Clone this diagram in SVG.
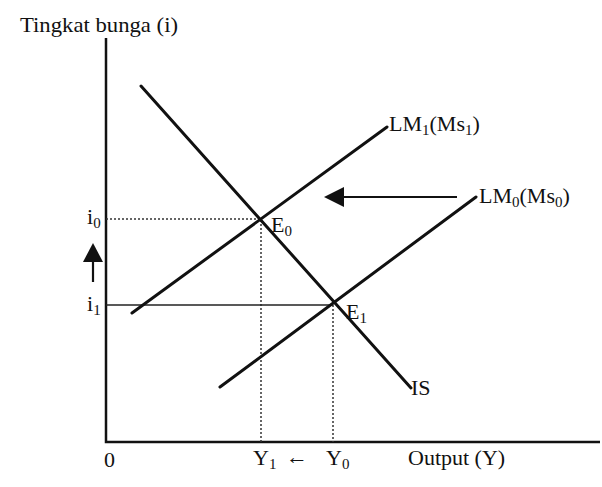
<svg xmlns="http://www.w3.org/2000/svg" width="602" height="487" viewBox="0 0 602 487">
<style>
text{font-family:"Liberation Serif","Times New Roman",serif;font-size:22px;fill:#111}
.sub{font-size:15px}
.curve{stroke:#111;stroke-width:3;fill:none;stroke-linecap:round}
.axis{stroke:#111;stroke-width:2.5;fill:none}
.dot{stroke:#333;stroke-width:1.5;stroke-dasharray:2 2;fill:none}
.thin{stroke:#222;stroke-width:1.3;fill:none}
</style>
<rect width="602" height="487" fill="#fff"/>
<g id="axes">
<path class="axis" d="M106,38 V442 H600"/>
<text x="20" y="32" textLength="158" lengthAdjust="spacingAndGlyphs">Tingkat bunga (i)</text>
<text x="104" y="467">0</text>
<text x="408" y="465">Output (Y)</text>
</g>
<g id="connectors">
<path class="dot" d="M106,219 H261 V442"/>
<path class="thin" d="M106,305 H333"/>
<path class="dot" d="M333,305 V442"/>
<path stroke="#111" stroke-width="2.2" d="M93,282 V260"/>
<polygon points="83,262 103,262 93,243" fill="#111"/>
<path stroke="#111" stroke-width="2.2" d="M457,197 H340"/>
<polygon points="324,197 344,187 344,207" fill="#111"/>
</g>
<g id="IS">
<path class="curve" d="M141,86 L411,388"/>
<text x="411" y="395">IS</text>
</g>
<g id="LM1">
<path class="curve" d="M132,313 L387,127"/>
<text x="389" y="131">LM<tspan class="sub" dy="4">1</tspan><tspan dy="-4">(Ms</tspan><tspan class="sub" dy="4">1</tspan><tspan dy="-4">)</tspan></text>
</g>
<g id="LM0">
<path class="curve" d="M220,387 L476,197"/>
<text x="479" y="203">LM<tspan class="sub" dy="4">0</tspan><tspan dy="-4">(Ms</tspan><tspan class="sub" dy="4">0</tspan><tspan dy="-4">)</tspan></text>
</g>
<g id="E0">
<text x="271" y="232">E<tspan class="sub" dy="4">0</tspan></text>
</g>
<g id="E1">
<text x="346" y="319">E<tspan class="sub" dy="4">1</tspan></text>
</g>
<g id="i0">
<text x="87" y="224">i<tspan class="sub" dy="4">0</tspan></text>
</g>
<g id="i1">
<text x="87" y="311">i<tspan class="sub" dy="4">1</tspan></text>
</g>
<g id="Y1">
<text x="253" y="465">Y<tspan class="sub" dy="4">1</tspan></text>
</g>
<g id="Y0">
<text x="326" y="465">Y<tspan class="sub" dy="4">0</tspan></text>
</g>
<text x="286" y="464">←</text>
</svg>
